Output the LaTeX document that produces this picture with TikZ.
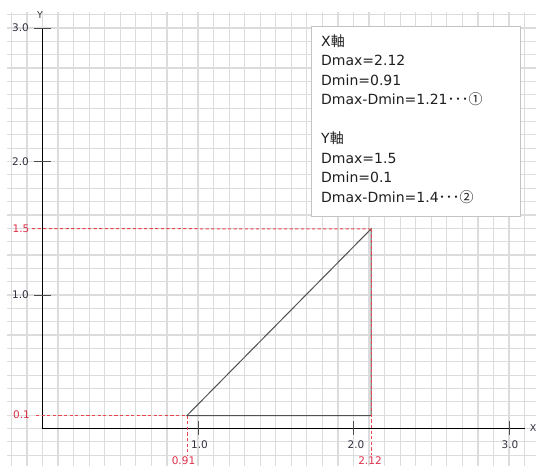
\documentclass[tikz,border=0pt]{standalone}
\usepackage{fontspec}
\setmainfont{DejaVu Sans}
\newfontfamily\cjk{Noto Sans CJK JP}
\definecolor{gridc}{RGB}{220,220,220}
\definecolor{redline}{RGB}{232,70,78}
\definecolor{redtxt}{RGB}{222,48,72}
\definecolor{labc}{RGB}{50,50,64}
\definecolor{boxc}{RGB}{195,195,195}
\definecolor{tric}{RGB}{80,80,80}
\tikzset{
  gridline/.style={gridc, line width=1.2pt},
  axisline/.style={black, line width=1pt},
  tickline/.style={black!70, line width=1pt},
  triline/.style={tric, line width=1pt},
  reddash/.style={redline, line width=1pt, dash pattern=on 3.2pt off 2.4pt},
  ticklab/.style={labc, font=\fontsize{10.5}{11}\selectfont, inner sep=0pt},
  redlab/.style={redtxt, font=\fontsize{10.5}{11}\selectfont, inner sep=0pt},
  boxtxt/.style={black!88, font=\fontsize{14}{16}\selectfont, anchor=west, inner sep=0pt},
}
\begin{document}
\begin{tikzpicture}[x=1pt, y=-1pt]
\useasboundingbox (0,0) rectangle (536,466);
% grid
\foreach \k in {-2,...,31} {
  \draw[gridline] ({42.5+\k*15.55},12) -- ({42.5+\k*15.55},466);
  \draw[gridline] (7,{428.5-\k*13.35}) -- (536,{428.5-\k*13.35});
}
% axes
\coordinate (O) at (42.5,428.5);
\coordinate (ytop) at (42.5,28);
\coordinate (xend) at (525,428.5);
\draw[axisline] (ytop) -- (O) -- (xend);
\node[ticklab, font=\fontsize{9.5}{10}\selectfont] (ylab) at (40,15) {Y};
\node[ticklab, font=\fontsize{9.5}{10}\selectfont] (xlab) at (533,428) {X};
% y ticks
\foreach \v/\yy in {3.0/28, 2.0/161.5, 1.0/295} {
  \draw[tickline] (34,\yy) -- (51,\yy);
}
\node[ticklab, anchor=east] (y30) at (29,28) {3.0};
\node[ticklab, anchor=east] (y20) at (29,161.5) {2.0};
\node[ticklab, anchor=east] (y10) at (29,295) {1.0};
% x ticks
\foreach \xx in {198,353,509} {
  \draw[tickline] (\xx,421) -- (\xx,435);
}
\node[ticklab] (x10) at (199.5,445) {1.0};
\node[ticklab] (x20) at (356,445) {2.0};
\node[ticklab] (x30) at (510,445) {3.0};
% triangle
\coordinate (A) at (187,415.5);
\coordinate (B) at (371,415.5);
\coordinate (C) at (371,229);
\draw[triline] (A) -- (B) -- (C) -- cycle;
% red dashed guides
\node[redlab, anchor=east] (r15) at (29.5,228.5) {1.5};
\node[redlab, anchor=east] (r01) at (30,415) {0.1};
\node[redlab] (r091) at (183.5,461) {0.91};
\node[redlab] (r212) at (370,461) {2.12};
\coordinate (h15) at (32,228.5);
\coordinate (h01) at (36,415.5);
\coordinate (v091) at (187,455);
\coordinate (v212) at (371,455);
\draw[reddash] (h15) -- (C);
\draw[reddash] (h01) -- (A);
\draw[reddash] (A) -- (v091);
\draw[reddash] (C) -- (v212);
% info box
\draw[boxc, fill=white, line width=1pt] (311,26) rectangle (520,216);
\node[boxtxt] (t1) at (321,41) {X{\cjk 軸}};
\node[boxtxt] (t2) at (321,60.5) {Dmax=2.12};
\node[boxtxt] (t3) at (321,80) {Dmin=0.91};
\node[boxtxt] (t4) at (321,99.5) {Dmax-Dmin=1.21{\cjk ･･･①}};
\node[boxtxt] (t5) at (321,138.5) {Y{\cjk 軸}};
\node[boxtxt] (t6) at (321,158) {Dmax=1.5};
\node[boxtxt] (t7) at (321,177.5) {Dmin=0.1};
\node[boxtxt] (t8) at (321,197) {Dmax-Dmin=1.4{\cjk ･･･②}};
\end{tikzpicture}
\end{document}
